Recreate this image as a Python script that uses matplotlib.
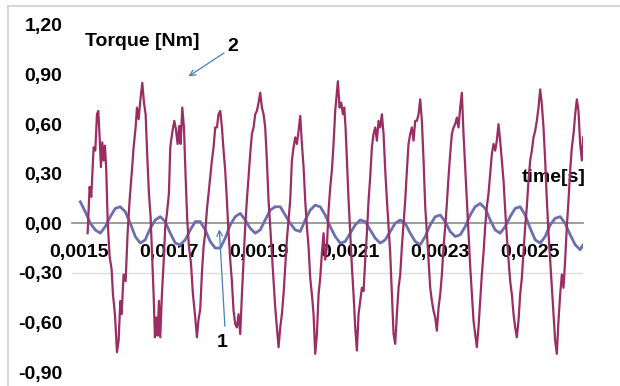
import numpy as np
import matplotlib
matplotlib.use("Agg")
import matplotlib.pyplot as plt
from matplotlib.lines import Line2D

# ---- data (time in microseconds, torque in Nm) ----
t2_us = [1519.6, 1524.0, 1527.7, 1532.9, 1536.6, 1540.3, 1543.2, 1546.2, 1549.1, 1552.1,
         1555.0, 1558.0, 1560.9, 1563.9, 1568.3, 1572.8, 1575.7, 1580.1, 1584.6, 1588.3,
         1592.0, 1594.9, 1599.3, 1603.8, 1608.2, 1612.6, 1617.8, 1621.5, 1625.9, 1628.9,
         1632.6, 1636.2, 1640.7, 1644.4, 1648.1, 1651.8, 1655.4, 1659.1, 1662.8, 1665.8,
         1668.7, 1671.7, 1674.6, 1677.6, 1680.5, 1684.2, 1687.9, 1691.6, 1695.3, 1699.7,
         1702.7, 1707.1, 1711.6, 1715.2, 1718.9, 1722.6, 1725.6, 1729.3, 1733.0, 1736.7,
         1740.3, 1744.0, 1748.5, 1752.9, 1757.3, 1761.8, 1765.4, 1769.1, 1772.8, 1776.5,
         1780.1, 1783.8, 1787.5, 1791.2, 1794.9, 1798.6, 1802.3, 1806.0, 1809.7, 1813.4,
         1817.1, 1820.8, 1824.4, 1828.1, 1831.8, 1835.5, 1839.2, 1842.9, 1846.6, 1850.3,
         1854.0, 1857.7, 1861.4, 1865.1, 1868.7, 1872.4, 1876.1, 1879.8, 1883.5, 1887.2,
         1890.9, 1894.6, 1898.3, 1902.0, 1905.7, 1909.4, 1913.0, 1916.7, 1920.4, 1924.1,
         1927.8, 1931.5, 1935.2, 1938.9, 1942.6, 1946.3, 1950.0, 1953.6, 1957.3, 1961.0,
         1964.7, 1968.4, 1972.1, 1975.8, 1979.5, 1983.2, 1986.9, 1990.6, 1994.3, 1998.0,
         2001.6, 2005.3, 2009.0, 2012.7, 2016.4, 2020.1, 2023.8, 2027.5, 2031.2, 2034.9,
         2038.6, 2042.3, 2046.0, 2049.7, 2053.4, 2057.1, 2060.7, 2064.4, 2068.1, 2071.8,
         2074.0, 2077.7, 2081.4, 2085.1, 2088.1, 2091.0, 2094.0, 2097.7, 2101.3, 2105.0,
         2108.7, 2112.4, 2116.1, 2119.8, 2123.5, 2127.2, 2130.9, 2134.6, 2138.3, 2142.0,
         2145.6, 2149.3, 2153.0, 2156.7, 2160.4, 2164.1, 2167.8, 2171.5, 2175.2, 2178.9,
         2182.6, 2186.3, 2189.9, 2193.6, 2197.3, 2201.0, 2204.7, 2208.4, 2212.1, 2215.8,
         2219.5, 2223.2, 2226.9, 2230.5, 2234.2, 2237.9, 2241.6, 2245.3, 2249.0, 2252.7,
         2256.4, 2260.1, 2263.8, 2267.5, 2271.2, 2274.8, 2278.5, 2282.2, 2285.9, 2289.6,
         2293.3, 2297.0, 2300.7, 2304.4, 2308.1, 2311.8, 2315.4, 2319.1, 2322.8, 2326.5,
         2330.2, 2333.9, 2337.5, 2341.2, 2344.9, 2348.6, 2352.3, 2356.0, 2359.7, 2363.4,
         2367.1, 2370.8, 2374.5, 2378.1, 2381.8, 2385.5, 2389.2, 2392.9, 2396.6, 2400.3,
         2404.0, 2407.7, 2411.4, 2415.1, 2418.8, 2422.4, 2426.1, 2429.8, 2433.5, 2437.2,
         2440.9, 2444.6, 2448.3, 2452.0, 2455.7, 2459.4, 2463.1, 2466.7, 2470.4, 2474.1,
         2477.8, 2481.5, 2485.2, 2488.9, 2492.6, 2496.3, 2500.0, 2503.7, 2507.4, 2511.1,
         2514.7, 2518.4, 2522.1, 2525.8, 2529.5, 2533.2, 2536.9, 2540.6, 2544.3, 2548.0,
         2551.7, 2555.3, 2559.0, 2562.7, 2566.4, 2570.1, 2573.8, 2577.5, 2581.2, 2584.9,
         2588.6, 2592.3, 2596.0, 2599.7, 2603.4, 2607.0, 2610.7, 2614.4, 2617.4]
torque2 = [-0.06, 0.22, 0.16, 0.46, 0.44, 0.66, 0.68, 0.52, 0.34, 0.49,
           0.38, 0.47, 0.32, 0.02, -0.20, -0.28, -0.43, -0.55, -0.78, -0.71,
           -0.47, -0.55, -0.31, -0.35, -0.06, 0.14, 0.32, 0.46, 0.58, 0.70,
           0.63, 0.74, 0.85, 0.73, 0.66, 0.40, 0.18, 0.04, -0.22, -0.43,
           -0.69, -0.57, -0.68, -0.47, -0.69, -0.43, -0.24, -0.02, 0.06, 0.18,
           0.46, 0.55, 0.62, 0.57, 0.48, 0.59, 0.48, 0.70, 0.58, 0.28,
           0.02, -0.14, -0.24, -0.43, -0.55, -0.69, -0.58, -0.52, -0.30, -0.14,
           -0.06, 0.08, 0.18, 0.28, 0.38, 0.46, 0.58, 0.58, 0.66, 0.68,
           0.58, 0.44, 0.32, 0.14, -0.06, -0.22, -0.35, -0.53, -0.61, -0.63,
           -0.55, -0.67, -0.43, -0.22, -0.02, 0.14, 0.28, 0.42, 0.54, 0.58,
           0.66, 0.68, 0.73, 0.79, 0.70, 0.66, 0.58, 0.38, 0.14, -0.02,
           -0.18, -0.35, -0.51, -0.63, -0.75, -0.63, -0.55, -0.43, -0.26, -0.10,
           0.02, 0.14, 0.38, 0.46, 0.52, 0.48, 0.56, 0.65, 0.48, 0.34,
           0.14, -0.02, -0.14, -0.33, -0.43, -0.55, -0.79, -0.67, -0.43, -0.33,
           -0.18, -0.06, -0.22, -0.14, 0.08, 0.22, 0.32, 0.48, 0.68, 0.79,
           0.86, 0.70, 0.73, 0.66, 0.70, 0.58, 0.38, 0.14, -0.06, -0.26,
           -0.43, -0.63, -0.77, -0.55, -0.47, -0.39, -0.41, -0.22, -0.06, 0.14,
           0.28, 0.46, 0.54, 0.58, 0.50, 0.62, 0.58, 0.66, 0.54, 0.32,
           0.14, -0.02, -0.18, -0.43, -0.67, -0.73, -0.55, -0.39, -0.31, -0.14,
           0.00, 0.14, 0.32, 0.48, 0.54, 0.58, 0.50, 0.62, 0.62, 0.66,
           0.75, 0.62, 0.38, 0.10, -0.06, -0.22, -0.39, -0.47, -0.53, -0.57,
           -0.65, -0.51, -0.43, -0.31, -0.14, -0.02, 0.12, 0.28, 0.42, 0.54,
           0.58, 0.60, 0.64, 0.58, 0.70, 0.79, 0.54, 0.34, 0.14, -0.06,
           -0.26, -0.43, -0.59, -0.67, -0.75, -0.63, -0.47, -0.31, -0.18, -0.02,
           0.10, 0.18, 0.30, 0.42, 0.48, 0.44, 0.50, 0.60, 0.50, 0.38,
           0.26, 0.08, -0.08, -0.22, -0.35, -0.43, -0.55, -0.63, -0.69, -0.59,
           -0.43, -0.33, -0.18, -0.02, 0.10, 0.26, 0.38, 0.44, 0.52, 0.56,
           0.62, 0.70, 0.81, 0.72, 0.58, 0.38, 0.14, -0.06, -0.22, -0.39,
           -0.55, -0.71, -0.79, -0.59, -0.43, -0.31, -0.39, -0.22, -0.02, 0.14,
           0.32, 0.46, 0.54, 0.66, 0.75, 0.68, 0.48, 0.38, 0.52]

t1_us = [1503.4, 1514.4, 1525.5, 1536.6, 1547.6, 1558.7, 1569.8, 1580.9, 1591.9, 1603.0,
         1614.1, 1625.2, 1636.2, 1647.3, 1658.4, 1669.5, 1680.5, 1691.6, 1702.7, 1713.8,
         1724.8, 1735.9, 1747.0, 1758.1, 1769.1, 1780.1, 1791.2, 1802.3, 1813.4, 1824.4,
         1835.5, 1846.6, 1857.7, 1868.7, 1879.8, 1890.9, 1902.0, 1913.0, 1924.1, 1935.2,
         1946.3, 1957.3, 1968.4, 1979.5, 1990.6, 2001.6, 2012.7, 2023.8, 2034.9, 2046.0,
         2057.0, 2068.1, 2079.2, 2090.3, 2101.3, 2112.4, 2123.5, 2134.6, 2145.6, 2156.7,
         2167.8, 2178.9, 2189.9, 2201.0, 2212.1, 2223.2, 2234.2, 2245.3, 2256.4, 2267.5,
         2278.5, 2289.6, 2300.7, 2311.8, 2322.8, 2333.9, 2344.9, 2356.0, 2367.1, 2378.1,
         2389.2, 2400.3, 2411.4, 2422.4, 2433.5, 2444.6, 2455.7, 2466.7, 2477.8, 2488.9,
         2500.0, 2511.1, 2522.1, 2533.2, 2544.3, 2555.3, 2566.4, 2577.5, 2588.6, 2599.7,
         2610.7, 2617.4]
torque1 = [0.13, 0.07, 0.00, -0.04, -0.06, -0.02, 0.04, 0.09, 0.10, 0.07,
           0.00, -0.08, -0.12, -0.10, -0.03, 0.02, 0.04, 0.01, -0.06, -0.12,
           -0.13, -0.10, -0.04, 0.01, 0.01, -0.04, -0.11, -0.15, -0.15, -0.09,
           -0.01, 0.04, 0.06, 0.02, -0.03, -0.06, -0.04, 0.02, 0.08, 0.10,
           0.10, 0.05, 0.00, -0.04, -0.05, 0.02, 0.08, 0.11, 0.10, 0.05,
           -0.02, -0.08, -0.12, -0.11, -0.06, -0.01, 0.02, 0.01, -0.04, -0.09,
           -0.12, -0.10, -0.05, 0.00, 0.02, 0.00, -0.06, -0.11, -0.13, -0.08,
           -0.01, 0.04, 0.05, 0.01, -0.05, -0.08, -0.07, -0.02, 0.05, 0.10,
           0.12, 0.09, 0.02, -0.04, -0.06, -0.02, 0.04, 0.09, 0.10, 0.05,
           -0.03, -0.10, -0.12, -0.08, -0.01, 0.03, 0.04, 0.00, -0.07, -0.13,
           -0.16, -0.13]

y_ticks = [-0.90, -0.60, -0.30, 0.00, 0.30, 0.60, 0.90, 1.20]
y_tick_labels = ["-0,90", "-0,60", "-0,30", "0,00", "0,30", "0,60", "0,90", "1,20"]
x_ticks = [0.0015, 0.0017, 0.0019, 0.0021, 0.0023, 0.0025]
x_tick_labels = ["0,0015", "0,0017", "0,0019", "0,0021", "0,0023", "0,0025"]

t2 = np.array(t2_us) * 1e-6
t1 = np.array(t1_us) * 1e-6

plt.rcParams['font.family'] = ['Liberation Sans', 'DejaVu Sans']
fig = plt.figure(figsize=(6.2, 3.86), dpi=100)
ax = fig.add_axes([72/620, 1 - 372/386, (583-72)/620, (372-25)/386])

ax.plot(t1, torque1, color='#6b6fae', lw=2.0, zorder=3)
ax.plot(t2, torque2, color='#9b2d63', lw=1.6, zorder=4)

ax.set_xlim(0.001485, 0.002617)
ax.set_ylim(-0.90, 1.20)

for s in ['top', 'right', 'left']:
    ax.spines[s].set_visible(False)
ax.spines['bottom'].set_position(('data', 0))
ax.spines['bottom'].set_color('#8c8c8c')
ax.spines['bottom'].set_linewidth(1.2)
ax.spines['bottom'].set_zorder(2)
ax.axhline(-0.30, color='#dddddd', lw=1.0, zorder=1)

fs = 14
ax.set_yticks(y_ticks)
ax.set_yticklabels(y_tick_labels, fontsize=fs, fontweight='bold')
ax.set_xticks(x_ticks)
ax.set_xticklabels(x_tick_labels, fontsize=fs, fontweight='bold')
ax.tick_params(axis='y', length=0, pad=7)
ax.tick_params(axis='x', length=0, pad=15)

ax.text(0.0015144, 1.10, "Torque [Nm]", fontsize=fs, fontweight='bold', ha='left', va='center')
ax.text(0.002482, 0.28, "time[s]", fontsize=fs, fontweight='bold', ha='left', va='center')
ax.text(0.001842, 1.07, "2", fontsize=fs, fontweight='bold', ha='center', va='center')
ax.text(0.001818, -0.72, "1", fontsize=fs, fontweight='bold', ha='center', va='center')

arrow_color = '#4a7ebb'
ax.annotate("", xy=(0.001738, 0.88), xytext=(0.001827, 1.04),
            arrowprops=dict(arrowstyle='->', color=arrow_color, lw=0.9))
ax.annotate("", xy=(0.001811, -0.02), xytext=(0.001824, -0.64),
            arrowprops=dict(arrowstyle='->', color=arrow_color, lw=0.9), zorder=5)

# chart frame (top and left edges visible)
fig.add_artist(Line2D([8/620, 1], [1 - 6/386, 1 - 6/386], color='#d0d0d0', lw=1.2))
fig.add_artist(Line2D([8/620, 8/620], [0, 1 - 6/386], color='#d0d0d0', lw=1.2))

fig.savefig("out.png", dpi=100)
